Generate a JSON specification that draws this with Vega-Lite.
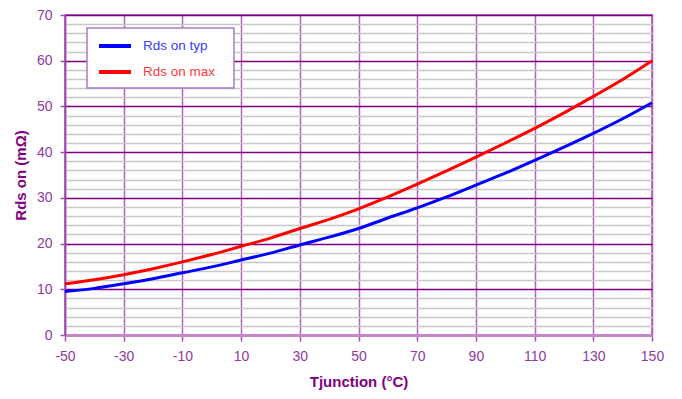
{
  "$schema": "https://vega.github.io/schema/vega-lite/v6.json",
  "width": 587,
  "height": 320,
  "autosize": {"type": "none"},
  "padding": {"left": 65, "top": 15, "right": 30, "bottom": 64},
  "background": "white",
  "config": {
    "view": {"stroke": "#9a48a8", "strokeWidth": 1.5},
    "font": "Liberation Sans"
  },
  "data": {
    "values": [
      {"t": -50, "s": "Rds on typ", "v": 9.5},
      {"t": -40, "s": "Rds on typ", "v": 10.2},
      {"t": -30, "s": "Rds on typ", "v": 11.2},
      {"t": -20, "s": "Rds on typ", "v": 12.3},
      {"t": -10, "s": "Rds on typ", "v": 13.6},
      {"t": 0, "s": "Rds on typ", "v": 14.9},
      {"t": 10, "s": "Rds on typ", "v": 16.4},
      {"t": 20, "s": "Rds on typ", "v": 17.9},
      {"t": 30, "s": "Rds on typ", "v": 19.7},
      {"t": 40, "s": "Rds on typ", "v": 21.4},
      {"t": 50, "s": "Rds on typ", "v": 23.3},
      {"t": 60, "s": "Rds on typ", "v": 25.6},
      {"t": 70, "s": "Rds on typ", "v": 27.8},
      {"t": 80, "s": "Rds on typ", "v": 30.2},
      {"t": 90, "s": "Rds on typ", "v": 32.8},
      {"t": 100, "s": "Rds on typ", "v": 35.4},
      {"t": 110, "s": "Rds on typ", "v": 38.2},
      {"t": 120, "s": "Rds on typ", "v": 41.1},
      {"t": 130, "s": "Rds on typ", "v": 44.1},
      {"t": 140, "s": "Rds on typ", "v": 47.3},
      {"t": 150, "s": "Rds on typ", "v": 50.8},
      {"t": -50, "s": "Rds on max", "v": 11.2},
      {"t": -40, "s": "Rds on max", "v": 12.1},
      {"t": -30, "s": "Rds on max", "v": 13.2},
      {"t": -20, "s": "Rds on max", "v": 14.5},
      {"t": -10, "s": "Rds on max", "v": 16.0},
      {"t": 0, "s": "Rds on max", "v": 17.6},
      {"t": 10, "s": "Rds on max", "v": 19.4},
      {"t": 20, "s": "Rds on max", "v": 21.2},
      {"t": 30, "s": "Rds on max", "v": 23.3},
      {"t": 40, "s": "Rds on max", "v": 25.3},
      {"t": 50, "s": "Rds on max", "v": 27.6},
      {"t": 60, "s": "Rds on max", "v": 30.2},
      {"t": 70, "s": "Rds on max", "v": 33.0},
      {"t": 80, "s": "Rds on max", "v": 35.9},
      {"t": 90, "s": "Rds on max", "v": 38.9},
      {"t": 100, "s": "Rds on max", "v": 42.0},
      {"t": 110, "s": "Rds on max", "v": 45.2},
      {"t": 120, "s": "Rds on max", "v": 48.6},
      {"t": 130, "s": "Rds on max", "v": 52.2},
      {"t": 140, "s": "Rds on max", "v": 55.9},
      {"t": 150, "s": "Rds on max", "v": 60.0}
    ]
  },
  "mark": {"type": "line", "strokeWidth": 3, "interpolate": "monotone"},
  "encoding": {
    "x": {
      "field": "t",
      "type": "quantitative",
      "scale": {"domain": [-50, 150], "nice": false, "zero": false},
      "axis": {
        "values": [-50, -30, -10, 10, 30, 50, 70, 90, 110, 130, 150],
        "labelExpr": "'' + datum.value",
        "title": "Tjunction (°C)",
        "grid": true,
        "gridColor": "#b262bc",
        "gridWidth": 1.5,
        "domainColor": "#c586cc",
        "domainWidth": 3,
        "tickColor": "#a050b0",
        "tickSize": 6,
        "tickWidth": 1.5,
        "labelFontSize": 14,
        "labelColor": "#8e3a9e",
        "labelPadding": 8,
        "labelFlush": false,
        "titleFontSize": 15,
        "titleColor": "#800080",
        "titleFontWeight": "bold",
        "titlePadding": 11
      }
    },
    "y": {
      "field": "v",
      "type": "quantitative",
      "scale": {"domain": [0, 70], "nice": false},
      "axis": {
        "values": [0, 2, 4, 6, 8, 10, 12, 14, 16, 18, 20, 22, 24, 26, 28, 30, 32, 34, 36, 38, 40, 42, 44, 46, 48, 50, 52, 54, 56, 58, 60, 62, 64, 66, 68, 70],
        "labelExpr": "datum.value % 10 === 0 ? '' + datum.value : ''",
        "title": "Rds on (mΩ)",
        "grid": true,
        "gridColor": {"condition": {"test": "datum.value % 10 === 0", "value": "#800080"}, "value": "#c8c8c8"},
        "gridWidth": 1.3,
        "tickOpacity": {"condition": {"test": "datum.value % 10 === 0", "value": 1}, "value": 0},
        "tickColor": "#a050b0",
        "tickSize": 5,
        "tickWidth": 1.5,
        "domainColor": "#9a48a8",
        "domainWidth": 1.5,
        "labelFontSize": 14,
        "labelColor": "#8e3a9e",
        "labelPadding": 8,
        "labelFlush": false,
        "titleFontSize": 15,
        "titleColor": "#800080",
        "titleFontWeight": "bold",
        "titlePadding": 8
      }
    },
    "color": {
      "field": "s",
      "type": "nominal",
      "scale": {"domain": ["Rds on typ", "Rds on max"], "range": ["#0000ff", "#ff0000"]},
      "legend": {
        "title": null,
        "orient": "none",
        "legendX": 22,
        "legendY": 13,
        "symbolType": "M-2,0H2",
        "symbolSize": 256,
        "symbolStrokeWidth": 4,
        "symbolOffset": 10,
        "labelOffset": 18,
        "labelFontSize": 13.5,
        "labelFont": "Liberation Sans",
        "labelExpr": "datum.label + '\u2800'",
        "rowPadding": 8,
        "padding": 8,
        "fillColor": "white",
        "strokeColor": "#a77cc6",
        "encode": {
          "legend": {
            "update": {
              "strokeWidth": {"value": 1.5}
            }
          },
          "labels": {
            "update": {
              "fill": {"signal": "datum.value === 'Rds on typ' ? '#3a3aff' : '#ff3a3a'"}
            }
          }
        }
      }
    }
  }
}
